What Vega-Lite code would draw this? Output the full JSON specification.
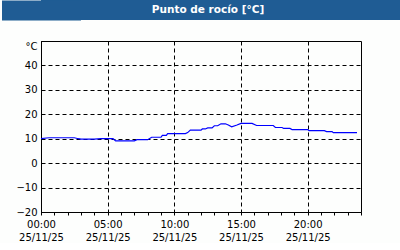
{
  "$schema": "https://vega.github.io/schema/vega-lite/v6.json",
  "background": "#fdfefd",
  "padding": 0,
  "spacing": 20,
  "config": {
    "font": "DejaVu Sans",
    "view": {"stroke": "black", "strokeWidth": 1}
  },
  "vconcat": [
    {
      "width": 360,
      "height": 20,
      "view": {"fill": "#1f5c94", "stroke": null},
      "data": {"values": [{"title": "Punto de rocío [°C]"}]},
      "mark": {"type": "text", "color": "white", "font": "DejaVu Sans", "fontWeight": "bold", "fontSize": 10.5, "baseline": "middle", "align": "center", "dx": -13},
      "encoding": {
        "text": {"field": "title", "type": "nominal"},
        "y": {
          "datum": 0,
          "type": "quantitative",
          "scale": {"domain": [-1, 1]},
          "axis": {"title": null, "labels": false, "ticks": false, "grid": false, "domainColor": "#1f5c94", "domainWidth": 79, "minExtent": 40, "maxExtent": 40}
        }
      }
    },
    {
      "width": 320,
      "height": 171,
      "data": {"values": [
        {"h": 0.0, "v": 10.0},
        {"h": 0.6, "v": 10.4},
        {"h": 2.5, "v": 10.4},
        {"h": 2.8, "v": 10.0},
        {"h": 3.0, "v": 9.8},
        {"h": 4.0, "v": 9.8},
        {"h": 4.5, "v": 10.0},
        {"h": 5.4, "v": 10.0},
        {"h": 5.6, "v": 9.1},
        {"h": 7.0, "v": 9.1},
        {"h": 7.2, "v": 9.6},
        {"h": 8.0, "v": 9.6},
        {"h": 8.3, "v": 10.6},
        {"h": 9.0, "v": 10.6},
        {"h": 9.1, "v": 11.4},
        {"h": 9.4, "v": 11.4},
        {"h": 9.5, "v": 12.1},
        {"h": 10.83, "v": 12.1},
        {"h": 11.0, "v": 12.5},
        {"h": 11.2, "v": 13.5},
        {"h": 12.0, "v": 13.5},
        {"h": 12.1, "v": 14.0},
        {"h": 12.33, "v": 14.0},
        {"h": 12.5, "v": 14.4},
        {"h": 12.83, "v": 14.4},
        {"h": 13.0, "v": 15.3},
        {"h": 13.25, "v": 15.3},
        {"h": 13.5, "v": 16.1},
        {"h": 13.83, "v": 16.1},
        {"h": 14.05, "v": 15.6},
        {"h": 14.3, "v": 14.9},
        {"h": 14.7, "v": 15.6},
        {"h": 15.0, "v": 16.3},
        {"h": 15.83, "v": 16.25},
        {"h": 16.17, "v": 15.4},
        {"h": 17.42, "v": 15.4},
        {"h": 17.58, "v": 14.6},
        {"h": 18.08, "v": 14.6},
        {"h": 18.2, "v": 14.2},
        {"h": 18.67, "v": 14.2},
        {"h": 18.83, "v": 13.75},
        {"h": 20.0, "v": 13.75},
        {"h": 20.1, "v": 13.3},
        {"h": 21.25, "v": 13.3},
        {"h": 21.42, "v": 12.9},
        {"h": 21.83, "v": 12.9},
        {"h": 21.92, "v": 12.5},
        {"h": 23.7, "v": 12.5}
      ]},
      "mark": {"type": "line", "color": "#0000ff", "strokeWidth": 1.2},
      "encoding": {
        "x": {
          "field": "h",
          "type": "quantitative",
          "scale": {"domain": [0, 24], "nice": false, "zero": false},
          "axis": {
            "title": null,
            "values": [0, 1, 2, 3, 4, 5, 6, 7, 8, 9, 10, 11, 12, 13, 14, 15, 16, 17, 18, 19, 20, 21, 22, 23, 24],
            "labelExpr": "(datum.value % 5 === 0 && datum.value < 24) ? [(datum.value < 10 ? '0' : '') + datum.value + ':00', '25/11/25'] : ''",
            "labelOverlap": false,
            "labelBound": false,
            "labelFlush": false,
            "labelFontSize": 10,
            "labelColor": "#000000",
            "labelBaseline": "top",
            "labelPadding": 4,
            "labelLineHeight": 13,
            "tickSize": 3,
            "tickColor": "black",
            "domainColor": "black",
            "grid": true,
            "gridColor": "black",
            "gridDash": [4, 3],
            "gridOpacity": {"condition": {"test": "datum.value % 5 === 0", "value": 1}, "value": 0}
          }
        },
        "y": {
          "field": "v",
          "type": "quantitative",
          "scale": {"domain": [-20, 50], "nice": false, "zero": false},
          "axis": {
            "title": null,
            "values": [-20, -10, 0, 10, 20, 30, 40, 50],
            "labelExpr": "datum.value === 50 ? '°C' : datum.label",
            "labelBaseline": {"condition": {"test": "datum.value === 50", "value": "top"}, "value": "middle"},
            "labelFontSize": 10,
            "labelColor": "#000000",
            "labelPadding": 4,
            "ticks": false,
            "minExtent": 40,
            "maxExtent": 40,
            "domainColor": "black",
            "grid": true,
            "gridColor": "black",
            "gridDash": [4, 3]
          }
        }
      }
    }
  ]
}
